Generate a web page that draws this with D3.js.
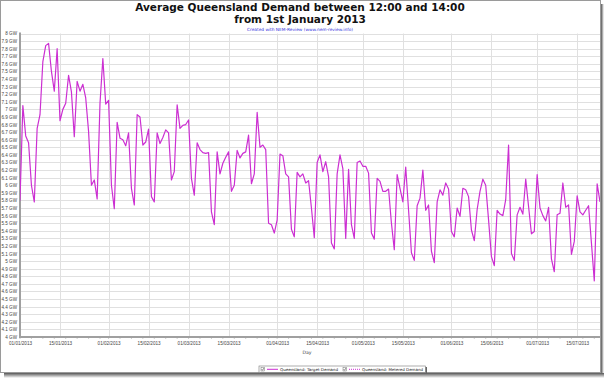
<!DOCTYPE html>
<html>
<head>
<meta charset="utf-8">
<script src="https://cdnjs.cloudflare.com/ajax/libs/d3/7.8.5/d3.min.js"></script>
<style>
  body { margin: 0; background: white; }
  svg { display: block; font-family: "DejaVu Sans", Verdana, sans-serif; }
  .tick-label { font-size: 4.6px; fill: #444; }
  .grid line { stroke: #e0e0e0; stroke-width: 1; }
</style>
</head>
<body>
<svg width="604" height="379"></svg>
<script>
// daily average demand 12:00-14:00 (GW), one array per month
const startDate = new Date(2013, 0, 1)
const jan = [5.8, 7.05, 6.65, 6.56, 6.0, 5.78, 6.75, 6.93, 7.63, 7.84, 7.87, 7.5, 7.24, 7.8, 6.85, 7.0,
  7.08, 7.45, 7.23, 6.64, 7.37, 7.24, 7.33, 7.15, 6.71, 6.0, 6.07, 5.82, 7.08, 7.67, 7.07]
const feb = [7.12, 6.0, 5.69, 6.83, 6.62, 6.6, 6.52, 6.69, 5.96, 5.74, 6.93, 6.9, 6.53, 6.57, 6.74,
  5.85, 5.78, 6.69, 6.55, 6.63, 6.73, 6.69, 6.07, 6.18, 7.06, 6.75, 6.79, 6.8]
const mar = [6.86, 6.09, 5.87, 6.56, 6.47, 6.43, 6.42, 6.43, 5.65, 5.48, 6.44, 6.15, 6.29, 6.37, 6.44,
  5.92, 6.0, 6.46, 6.36, 6.42, 6.44, 6.66, 6.02, 6.15, 6.96, 6.5, 6.53, 6.47, 5.5, 5.48, 5.37]
const apr = [5.54, 6.41, 6.39, 6.15, 6.11, 5.42, 5.32, 6.17, 6.11, 6.15, 6.03, 6.06, 5.7, 5.31, 6.3,
  6.4, 6.18, 6.31, 6.11, 5.24, 5.16, 6.15, 6.4, 6.22, 5.3, 6.21, 5.48, 5.3, 6.3, 6.32]
const may = [6.25, 6.25, 6.16, 5.37, 5.29, 6.09, 6.05, 5.92, 5.92, 5.95, 5.5, 5.15, 6.14, 5.96, 5.78,
  6.24, 5.67, 5.11, 5.01, 5.73, 5.83, 6.2, 5.67, 5.74, 5.13, 4.98, 5.78, 5.94, 5.87, 6.03, 5.95]
const jun = [5.39, 5.32, 5.7, 5.59, 5.96, 5.94, 5.85, 5.41, 5.27, 5.68, 5.92, 6.08, 6.0, 5.54, 5.06,
  4.94, 5.67, 5.62, 5.6, 5.81, 6.53, 5.1, 5.01, 5.61, 5.71, 5.62, 6.08, 5.72, 5.36, 5.39]
const jul = [6.14, 5.7, 5.6, 5.53, 5.71, 5.03, 4.86, 5.61, 5.63, 6.03, 5.71, 5.74, 5.09, 5.26, 5.86,
  5.65, 5.61, 5.67, 5.73, 5.24, 4.74, 6.02, 5.78]

const xTickLabels = ['01/01/2013', '15/01/2013', '01/02/2013', '15/02/2013', '01/03/2013', '15/03/2013',
  '01/04/2013', '15/04/2013', '01/05/2013', '15/05/2013', '01/06/2013', '15/06/2013', '01/07/2013', '15/07/2013']
const yTicks = [4, 4.1, 4.2, 4.3, 4.4, 4.5, 4.6, 4.7, 4.8, 4.9, 5, 5.1, 5.2, 5.3, 5.4, 5.5, 5.6, 5.7, 5.8, 5.9,
  6, 6.1, 6.2, 6.3, 6.4, 6.5, 6.6, 6.7, 6.8, 6.9, 7, 7.1, 7.2, 7.3, 7.4, 7.5, 7.6, 7.7, 7.8, 7.9, 8]
const seriesNames = ['Queensland: Target Demand', 'Queensland: Metered Demand']

const lineColor = '#cc2fd2'

const svg = d3.select('svg')
const width = +svg.attr('width')
const height = +svg.attr('height')

const parseDay = d3.timeParse('%d/%m/%Y')
const fmtDay = d3.timeFormat('%d/%m/%Y')

const data = [...jan, ...feb, ...mar, ...apr, ...may, ...jun, ...jul].map((v, i) => ({
  date: d3.timeDay.offset(startDate, i),
  value: v
}))

// frame + drop shadow like the screenshot
const defs = svg.append('defs')
const shR = defs.append('linearGradient').attr('id', 'shR')
shR.append('stop').attr('offset', 0).attr('stop-color', '#555')
shR.append('stop').attr('offset', 1).attr('stop-color', '#fff')
const shB = defs.append('linearGradient').attr('id', 'shB').attr('x2', 0).attr('y2', 1)
shB.append('stop').attr('offset', 0).attr('stop-color', '#555')
shB.append('stop').attr('offset', 1).attr('stop-color', '#fff')

svg.append('rect').attr('x', 601).attr('y', 4).attr('width', 3).attr('height', 372).attr('fill', 'url(#shR)')
svg.append('rect').attr('x', 4).attr('y', 373).attr('width', 600).attr('height', 5).attr('fill', 'url(#shB)')
svg.append('rect').attr('x', 0.5).attr('y', 0.5).attr('width', 600).attr('height', 372)
  .attr('fill', 'white').attr('stroke', '#9a9a9a').attr('stroke-width', 1)

const plot = { left: 20, right: 600, top: 33.5, bottom: 337 }

const xScale = d3.scaleTime()
  .domain([startDate, d3.timeDay.offset(startDate, 203)])
  .range([plot.left, plot.right])

const yScale = d3.scaleLinear()
  .domain([4, 8])
  .range([plot.bottom, plot.top])

// grid
const grid = svg.append('g').attr('class', 'grid')
grid.selectAll('.hg').data(yTicks).enter().append('line')
  .attr('x1', plot.left).attr('x2', plot.right)
  .attr('y1', d => Math.round(yScale(d)) + 0.5).attr('y2', d => Math.round(yScale(d)) + 0.5)
grid.selectAll('.vg').data(xTickLabels.slice(1)).enter().append('line')
  .attr('x1', d => Math.round(xScale(parseDay(d))) + 0.5).attr('x2', d => Math.round(xScale(parseDay(d))) + 0.5)
  .attr('y1', plot.top).attr('y2', plot.bottom)

// axes
const yAxis = d3.axisLeft(yScale).tickValues(yTicks).tickSize(0).tickPadding(3)
  .tickFormat(d => `${+d.toFixed(1)} GW`)
const yAxisG = svg.append('g').attr('transform', `translate(${plot.left}, 0)`).call(yAxis)
yAxisG.select('.domain').remove()
yAxisG.selectAll('text').attr('class', 'tick-label').attr('font-size', null).attr('font-family', null)

const xAxis = d3.axisBottom(xScale).tickValues(xTickLabels.map(parseDay)).tickSize(0).tickPadding(5)
  .tickFormat(fmtDay)
const xAxisG = svg.append('g').attr('transform', `translate(0, ${plot.bottom})`).call(xAxis)
xAxisG.select('.domain').remove()
xAxisG.selectAll('text').attr('class', 'tick-label').attr('font-size', null).attr('font-family', null)

// minor ticks every few days along the bottom
const minorG = svg.append('g')
minorG.selectAll('line').data(d3.timeDay.every(4).range(startDate, xScale.domain()[1])).enter().append('line')
  .attr('x1', d => xScale(d)).attr('x2', d => xScale(d))
  .attr('y1', plot.bottom).attr('y2', plot.bottom + 2)
  .attr('stroke', '#aaa').attr('stroke-width', 0.6)

svg.append('line')
  .attr('x1', plot.left).attr('x2', plot.left).attr('y1', plot.top - 1).attr('y2', plot.bottom + 1)
  .attr('stroke', '#a0a0a0').attr('stroke-width', 2)
svg.append('line')
  .attr('x1', plot.left - 1).attr('x2', plot.right).attr('y1', plot.bottom).attr('y2', plot.bottom)
  .attr('stroke', '#a0a0a0').attr('stroke-width', 2)

svg.append('text')
  .attr('class', 'tick-label')
  .attr('x', 307).attr('y', 354)
  .attr('text-anchor', 'middle')
  .text('Day')

// series
const line = d3.line()
  .x(d => xScale(d.date))
  .y(d => yScale(d.value))

svg.append('defs').append('clipPath').attr('id', 'clip')
  .append('rect').attr('x', plot.left).attr('y', plot.top - 2)
  .attr('width', plot.right - plot.left).attr('height', plot.bottom - plot.top + 2)

svg.append('path')
  .datum(data)
  .attr('clip-path', 'url(#clip)')
  .attr('d', line)
  .attr('fill', 'none')
  .attr('stroke', lineColor)
  .attr('stroke-width', 1.2)
  .attr('stroke-linejoin', 'round')

// titles
svg.append('text')
  .attr('x', 300).attr('y', 11)
  .attr('text-anchor', 'middle')
  .attr('font-weight', 'bold').attr('font-size', 10.5).attr('fill', '#111')
  .text('Average Queensland Demand between 12:00 and 14:00')
svg.append('text')
  .attr('x', 300).attr('y', 23)
  .attr('text-anchor', 'middle')
  .attr('font-weight', 'bold').attr('font-size', 10.5).attr('fill', '#111')
  .text('from 1st January 2013')
svg.append('text')
  .attr('x', 300).attr('y', 30.5)
  .attr('text-anchor', 'middle')
  .attr('font-size', 4.3).attr('fill', '#3333dd')
  .text('Created with NEM-Review (www.nem-review.info)')

// legend
const legendG = svg.append('g').attr('transform', 'translate(259, 366)')
legendG.append('rect').attr('x', 1).attr('y', 1).attr('width', 167).attr('height', 7).attr('fill', '#666')
legendG.append('rect').attr('x', 0).attr('y', 0).attr('width', 166.5).attr('height', 6.5)
  .attr('fill', 'white').attr('stroke', '#777').attr('stroke-width', 0.6)

const legendItems = legendG.selectAll('.item').data(seriesNames).enter().append('g')
  .attr('transform', (d, i) => `translate(${2 + i * 82}, 0)`)
legendItems.append('rect').attr('x', 0).attr('y', 1.5).attr('width', 3.5).attr('height', 3.5)
  .attr('fill', 'white').attr('stroke', '#555').attr('stroke-width', 0.4)
legendItems.append('path').attr('d', 'M0.6,3.2 L1.6,4.3 L3,1.9')
  .attr('fill', 'none').attr('stroke', '#222').attr('stroke-width', 0.5)
legendItems.append('line').attr('x1', 6).attr('x2', 17).attr('y1', 3.3).attr('y2', 3.3)
  .attr('stroke', lineColor).attr('stroke-width', 1)
  .attr('stroke-dasharray', (d, i) => i === 1 ? '1,1' : null)
legendItems.append('text').attr('x', 19).attr('y', 4.8)
  .attr('font-size', 3.9).attr('fill', '#222')
  .attr('textLength', (d, i) => i === 0 ? 58 : 61)
  .attr('lengthAdjust', 'spacingAndGlyphs')
  .text(d => d)
</script>
</body>
</html>
